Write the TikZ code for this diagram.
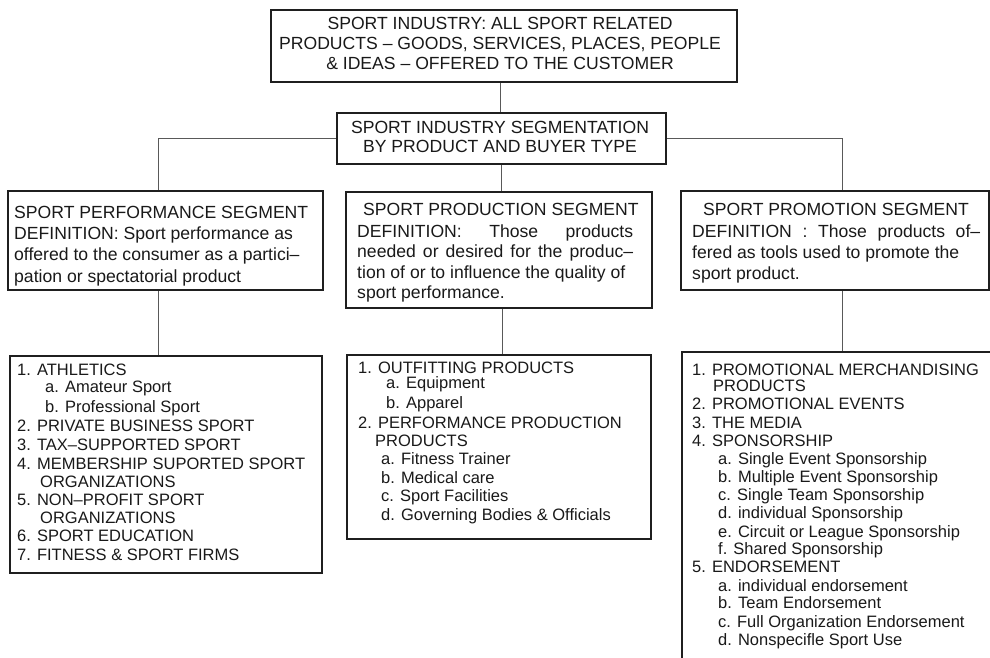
\documentclass[tikz,border=0pt]{standalone}
\usepackage{fontspec}
\setmainfont{Liberation Sans}
\tikzset{
  box/.style={draw=black!88, line width=2pt, inner sep=0pt, anchor=north west},
  conn/.style={draw=black!65, line width=1pt},
  tl/.style={anchor=base west, inner sep=0pt, text=black!90},
  tc/.style={anchor=base, inner sep=0pt, text=black!90},
  hf/.style={font=\fontsize{17.6}{20}\selectfont},
  df/.style={font=\fontsize{17.6}{20}\selectfont},
  lf/.style={font=\fontsize{16.5}{18}\selectfont},
}
\begin{document}
\begin{tikzpicture}[x=1pt,y=-1pt]
\useasboundingbox (0,0) rectangle (990,658);
\begin{scope}
\clip (0,0) rectangle (990,658);
% boxes
\node[box, minimum width=466pt, minimum height=72pt] (top) at (270,9) {};
\node[box, minimum width=329pt, minimum height=51pt] (seg) at (336,112) {};
\node[box, minimum width=315pt, minimum height=99pt] (dl) at (7,190) {};
\node[box, minimum width=306pt, minimum height=116pt] (dm) at (345,191) {};
\node[box, minimum width=308pt, minimum height=99pt] (dr) at (680,190) {};
\node[box, minimum width=312pt, minimum height=217pt] (ll) at (9,355) {};
\node[box, minimum width=304pt, minimum height=184pt] (ml) at (346,354) {};
\node[box, minimum width=330pt, minimum height=320pt] (rl) at (681,351) {};
% connectors
\draw[conn] ([xshift=-4pt]top.south) -- ([xshift=-4pt]top.south |- seg.north);
\draw[conn] (seg.south) -- (seg.south |- dm.north);
\draw[conn] (seg.west) -| ([xshift=-7.5pt]dl.north);
\draw[conn] (seg.east) -| ([xshift=7pt]dr.north);
\draw[conn] ([xshift=-7pt]dl.south) -- ([xshift=-7pt]dl.south |- ll.north);
\draw[conn] ([xshift=3pt]dm.south) -- ([xshift=3pt]dm.south |- ml.north);
\draw[conn] ([xshift=7pt]dr.south) -- ([xshift=7pt]dr.south |- rl.north);
\end{scope}
% top texts
\foreach \yy/\txt [count=\i] in {
  30/{SPORT INDUSTRY: ALL SPORT RELATED},
  50/{PRODUCTS – GOODS, SERVICES, PLACES, PEOPLE},
  69.5/{\& IDEAS – OFFERED TO THE CUSTOMER}}
  \node[tc,hf] (topt\i) at (500,\yy) {\txt};
\foreach \yy/\txt [count=\i] in {
  133/{SPORT INDUSTRY SEGMENTATION},
  153/{BY PRODUCT AND BUYER TYPE}}
  \node[tc,hf] (segt\i) at (500,\yy) {\txt};
% definition texts
\foreach \xx/\yy/\txt [count=\i] in {
  14/218/{SPORT PERFORMANCE SEGMENT},
  14/239/{DEFINITION: Sport performance as},
  14/260/{offered to the consumer as a partici–},
  14/282/{pation or spectatorial product}}
  \node[tl,df] (dlt\i) at (\xx,\yy) {\txt};
\foreach \xx/\yy/\txt [count=\i] in {
  363/215/{SPORT PRODUCTION SEGMENT},
  357/237/{\makebox[276pt][s]{DEFINITION: Those products}},
  357/257/{\makebox[276pt][s]{needed or desired for the produc–}},
  357/278/{tion of or to influence the quality of},
  357/298/{sport performance.}}
  \node[tl,df] (dmt\i) at (\xx,\yy) {\txt};
\foreach \xx/\yy/\txt [count=\i] in {
  703/215/{SPORT PROMOTION SEGMENT},
  692/237/{\makebox[288pt][s]{DEFINITION : Those products of–}},
  692/258/{fered as tools used to promote the},
  692/279/{sport product.}}
  \node[tl,df] (drt\i) at (\xx,\yy) {\txt};
% list texts
\foreach \xx/\yy/\txt [count=\i] in {
  17/375/{1. ATHLETICS},
  45/392/{a. Amateur Sport},
  45/412/{b. Professional Sport},
  17/431/{2. PRIVATE BUSINESS SPORT},
  17/450/{3. TAX–SUPPORTED SPORT},
  17/469/{4. MEMBERSHIP SUPORTED SPORT},
  40/487/{ORGANIZATIONS},
  17/505/{5. NON–PROFIT SPORT},
  40/523/{ORGANIZATIONS},
  17/541/{6. SPORT EDUCATION},
  17/560/{7. FITNESS \& SPORT FIRMS}}
  \node[tl,lf] (llt\i) at (\xx,\yy) {\txt};
\foreach \xx/\yy/\txt [count=\i] in {
  358/373/{1. OUTFITTING PRODUCTS},
  386/388/{a. Equipment},
  386/408/{b. Apparel},
  358/428/{2. PERFORMANCE PRODUCTION},
  375/446/{PRODUCTS},
  381/464/{a. Fitness Trainer},
  381/483/{b. Medical care},
  381/501/{c. Sport Facilities},
  381/520/{d. Governing Bodies \& Officials}}
  \node[tl,lf] (mlt\i) at (\xx,\yy) {\txt};
\foreach \xx/\yy/\txt [count=\i] in {
  692/375/{1. PROMOTIONAL MERCHANDISING},
  713/391/{PRODUCTS},
  692/409/{2. PROMOTIONAL EVENTS},
  692/428/{3. THE MEDIA},
  692/446/{4. SPONSORSHIP},
  718/464/{a. Single Event Sponsorship},
  718/482/{b. Multiple Event Sponsorship},
  718/500/{c. Single Team Sponsorship},
  718/518/{d. individual Sponsorship},
  718/537/{e. Circuit or League Sponsorship},
  718/554/{f. Shared Sponsorship},
  692/572/{5. ENDORSEMENT},
  718/591/{a. individual endorsement},
  718/608/{b. Team Endorsement},
  718/627/{c. Full Organization Endorsement},
  718/645/{d. Nonspecifle Sport Use}}
  \node[tl,lf] (rlt\i) at (\xx,\yy) {\txt};
\end{tikzpicture}
\end{document}
